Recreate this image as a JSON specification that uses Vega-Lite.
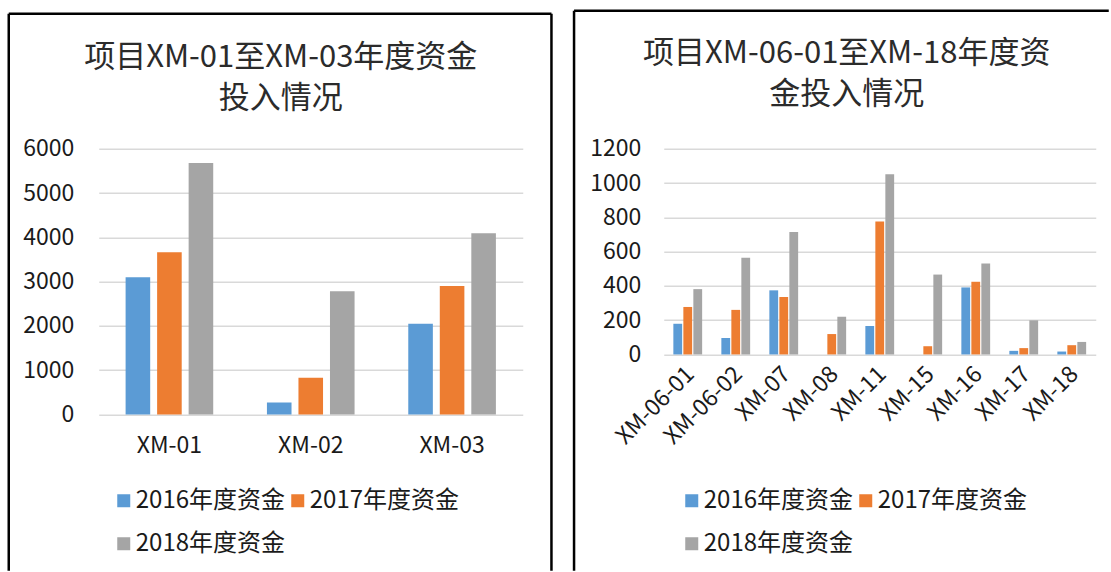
{
  "$schema": "https://vega.github.io/schema/vega-lite/v6.json",
  "padding": {"left": 6.75, "top": 8.75, "right": 0, "bottom": 0},
  "background": "white",
  "config": {
    "font": "Noto Sans CJK SC",
    "view": {"stroke": null},
    "axis": {"labelFont": "Noto Sans CJK SC", "labelColor": "#1a1a1a", "domain": false, "ticks": false, "title": null},
    "legend": {"labelFont": "Noto Sans CJK SC", "labelColor": "#1a1a1a"}
  },
  "datasets": {
    "left": [
      {"proj": "XM-01", "year": "2016年度资金", "value": 3100},
      {"proj": "XM-01", "year": "2017年度资金", "value": 3660},
      {"proj": "XM-01", "year": "2018年度资金", "value": 5680},
      {"proj": "XM-02", "year": "2016年度资金", "value": 270},
      {"proj": "XM-02", "year": "2017年度资金", "value": 830},
      {"proj": "XM-02", "year": "2018年度资金", "value": 2780},
      {"proj": "XM-03", "year": "2016年度资金", "value": 2050},
      {"proj": "XM-03", "year": "2017年度资金", "value": 2900},
      {"proj": "XM-03", "year": "2018年度资金", "value": 4090}
    ],
    "right": [
      {"proj": "XM-06-01", "year": "2016年度资金", "value": 179},
      {"proj": "XM-06-01", "year": "2017年度资金", "value": 277},
      {"proj": "XM-06-01", "year": "2018年度资金", "value": 381},
      {"proj": "XM-06-02", "year": "2016年度资金", "value": 96},
      {"proj": "XM-06-02", "year": "2017年度资金", "value": 260},
      {"proj": "XM-06-02", "year": "2018年度资金", "value": 564},
      {"proj": "XM-07", "year": "2016年度资金", "value": 374},
      {"proj": "XM-07", "year": "2017年度资金", "value": 335},
      {"proj": "XM-07", "year": "2018年度资金", "value": 715},
      {"proj": "XM-08", "year": "2016年度资金", "value": 0},
      {"proj": "XM-08", "year": "2017年度资金", "value": 119},
      {"proj": "XM-08", "year": "2018年度资金", "value": 220},
      {"proj": "XM-11", "year": "2016年度资金", "value": 166},
      {"proj": "XM-11", "year": "2017年度资金", "value": 776},
      {"proj": "XM-11", "year": "2018年度资金", "value": 1051},
      {"proj": "XM-15", "year": "2016年度资金", "value": 0},
      {"proj": "XM-15", "year": "2017年度资金", "value": 48},
      {"proj": "XM-15", "year": "2018年度资金", "value": 466},
      {"proj": "XM-16", "year": "2016年度资金", "value": 391},
      {"proj": "XM-16", "year": "2017年度资金", "value": 424},
      {"proj": "XM-16", "year": "2018年度资金", "value": 530},
      {"proj": "XM-17", "year": "2016年度资金", "value": 21},
      {"proj": "XM-17", "year": "2017年度资金", "value": 37},
      {"proj": "XM-17", "year": "2018年度资金", "value": 199},
      {"proj": "XM-18", "year": "2016年度资金", "value": 17},
      {"proj": "XM-18", "year": "2017年度资金", "value": 54},
      {"proj": "XM-18", "year": "2018年度资金", "value": 73}
    ]
  },
  "bounds": "flush",
  "spacing": 141,
  "resolve": {"scale": {"color": "independent", "xOffset": "independent"}},
  "hconcat": [
    {
      "width": 424,
      "height": 265.7,
      "title": {"text": ["项目XM-01至XM-03年度资金", "投入情况"], "anchor": "middle", "frame": "group", "dx": -30, "offset": -102, "fontSize": 31, "lineHeight": 41, "fontWeight": "normal", "color": "#2b2b2b", "font": "Noto Sans CJK SC"},
      "layer": [
        {
          "data": {"name": "left"},
          "mark": {"type": "bar"},
          "encoding": {
            "x": {"field": "proj", "type": "nominal", "sort": null, "scale": {"paddingInner": 0.38, "paddingOuter": 0.19}, "axis": {"labelAngle": 0, "labelFontSize": 23, "labelPadding": 20, "grid": false}},
            "xOffset": {"field": "year", "type": "nominal", "scale": {"paddingInner": 0.22, "paddingOuter": 0}},
            "y": {"field": "value", "type": "quantitative", "scale": {"domain": [0, 6000], "nice": false}, "axis": {"values": [0, 1000, 2000, 3000, 4000, 5000, 6000], "format": "d", "labelFontSize": 23, "labelPadding": 25, "grid": true, "gridColor": "#d9d9d9", "gridWidth": 1.5}},
            "color": {"field": "year", "type": "nominal", "scale": {"domain": ["2016年度资金", "2017年度资金", "2018年度资金"], "range": ["#5B9BD5", "#ED7D31", "#A5A5A5"]}, "legend": {"title": null, "orient": "none", "direction": "horizontal", "legendX": 13, "legendY": 340, "columns": 2, "columnPadding": 0, "rowPadding": 19, "labelFontSize": 24, "symbolType": "square", "symbolSize": 169, "symbolStrokeWidth": 0, "labelOffset": 0, "padding": 0}}
          }
        },
        {
          "data": {"values": [{}]},
          "mark": {"type": "rule", "color": "#000000", "strokeWidth": 2.5},
          "encoding": {
            "x": {"datum": -0.21226, "type": "quantitative", "scale": {"domain": [0, 1], "nice": false, "zero": false}, "axis": null},
            "y": {"datum": 1.50809, "type": "quantitative", "scale": {"domain": [0, 1], "nice": false, "zero": false}, "axis": null},
            "y2": {"datum": -0.58826}
          }
        },
        {
          "data": {"values": [{}]},
          "mark": {"type": "rule", "color": "#000000", "strokeWidth": 2.5},
          "encoding": {
            "x": {"datum": 1.06769, "type": "quantitative", "scale": {"domain": [0, 1], "nice": false, "zero": false}, "axis": null},
            "y": {"datum": 1.50809, "type": "quantitative", "scale": {"domain": [0, 1], "nice": false, "zero": false}, "axis": null},
            "y2": {"datum": -0.58826}
          }
        },
        {
          "data": {"values": [{}]},
          "mark": {"type": "rule", "color": "#000000", "strokeWidth": 2.5},
          "encoding": {
            "x": {"datum": -0.21226, "type": "quantitative", "scale": {"domain": [0, 1], "nice": false, "zero": false}, "axis": null},
            "x2": {"datum": 1.06769},
            "y": {"datum": 1.50809, "type": "quantitative", "scale": {"domain": [0, 1], "nice": false, "zero": false}, "axis": null}
          }
        }
      ],
      "resolve": {"scale": {"x": "independent", "y": "independent"}}
    },
    {
      "width": 432,
      "height": 205.7,
      "title": {"text": ["项目XM-06-01至XM-18年度资", "金投入情况"], "anchor": "middle", "frame": "group", "dx": -33, "offset": -102, "fontSize": 31, "lineHeight": 41, "fontWeight": "normal", "color": "#2b2b2b", "font": "Noto Sans CJK SC"},
      "layer": [
        {
          "data": {"name": "right"},
          "mark": {"type": "bar"},
          "encoding": {
            "x": {"field": "proj", "type": "nominal", "sort": null, "scale": {"paddingInner": 0.4, "paddingOuter": 0.2}, "axis": {"labelAngle": -45, "labelFontSize": 23, "labelPadding": 8, "labelOffset": -5, "grid": false}},
            "xOffset": {"field": "year", "type": "nominal", "scale": {"paddingInner": 0.12, "paddingOuter": 0}},
            "y": {"field": "value", "type": "quantitative", "scale": {"domain": [0, 1200], "nice": false}, "axis": {"values": [0, 200, 400, 600, 800, 1000, 1200], "format": "d", "labelFontSize": 23, "labelPadding": 23, "grid": true, "gridColor": "#d9d9d9", "gridWidth": 1.5}},
            "color": {"field": "year", "type": "nominal", "scale": {"domain": ["2016年度资金", "2017年度资金", "2018年度资金"], "range": ["#5B9BD5", "#ED7D31", "#A5A5A5"]}, "legend": {"title": null, "orient": "none", "direction": "horizontal", "legendX": 16, "legendY": 340, "columns": 2, "columnPadding": 0, "rowPadding": 19, "labelFontSize": 24, "symbolType": "square", "symbolSize": 169, "symbolStrokeWidth": 0, "labelOffset": 0, "padding": 0}}
          }
        },
        {
          "data": {"values": [{}]},
          "mark": {"type": "rule", "color": "#000000", "strokeWidth": 2.5},
          "encoding": {
            "x": {"datum": -0.20764, "type": "quantitative", "scale": {"domain": [0, 1], "nice": false, "zero": false}, "axis": null},
            "y": {"datum": 1.67088, "type": "quantitative", "scale": {"domain": [0, 1], "nice": false, "zero": false}, "axis": null},
            "y2": {"datum": -1.05153}
          }
        },
        {
          "data": {"values": [{}]},
          "mark": {"type": "rule", "color": "#000000", "strokeWidth": 2.5},
          "encoding": {
            "x": {"datum": -0.20764, "type": "quantitative", "scale": {"domain": [0, 1], "nice": false, "zero": false}, "axis": null},
            "x2": {"datum": 1.0301},
            "y": {"datum": 1.67088, "type": "quantitative", "scale": {"domain": [0, 1], "nice": false, "zero": false}, "axis": null}
          }
        }
      ],
      "resolve": {"scale": {"x": "independent", "y": "independent"}}
    }
  ]
}
